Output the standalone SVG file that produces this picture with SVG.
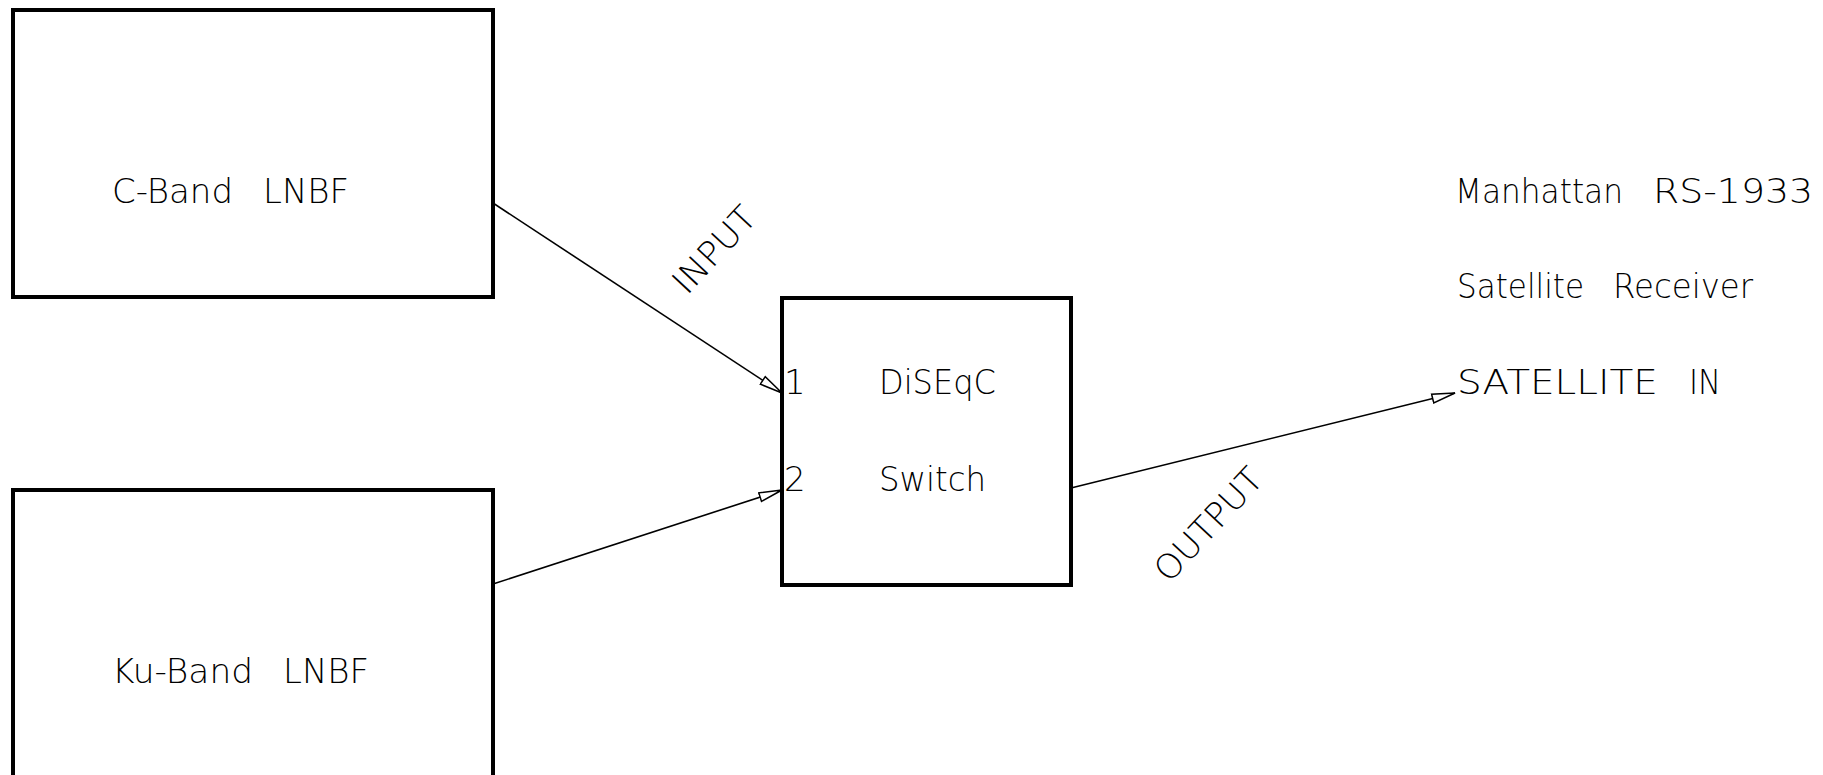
<svg xmlns="http://www.w3.org/2000/svg" width="1823" height="775" viewBox="0 0 1823 775">
  <style>
    .box { fill: none; stroke: #000; stroke-width: 4; stroke-linejoin: miter; }
    .wire { fill: none; stroke: #000; stroke-width: 1.6; }
    .lbl { font-family: "DejaVu Sans", "Liberation Sans", Arial, sans-serif; font-weight: 200; font-size: 34px; fill: #000; }
  </style>
  <defs>
    <marker id="arr" markerUnits="userSpaceOnUse" markerWidth="30" markerHeight="14" refX="24" refY="7" orient="auto" viewBox="0 0 30 14">
      <path d="M24,7 L1,2.5 L1,11.5 Z" fill="#fff" stroke="#000" stroke-width="1.5"/>
    </marker>
  </defs>
  <rect width="1823" height="775" fill="#fff"/>

  <g id="c-band-lnbf">
    <rect class="box" x="13" y="10" width="480" height="287"/>
    <text class="lbl" y="203"><tspan x="112" textLength="121" lengthAdjust="spacingAndGlyphs">C-Band</tspan> <tspan x="263" textLength="86" lengthAdjust="spacingAndGlyphs">LNBF</tspan></text>
  </g>

  <g id="ku-band-lnbf">
    <rect class="box" x="13" y="490" width="480" height="330"/>
    <text class="lbl" y="683"><tspan x="112" textLength="141" lengthAdjust="spacingAndGlyphs">Ku-Band</tspan> <tspan x="283" textLength="86" lengthAdjust="spacingAndGlyphs">LNBF</tspan></text>
  </g>

  <g id="diseqc-switch">
    <rect class="box" x="782" y="298" width="289" height="287"/>
    <text class="lbl" x="879" y="394" textLength="117" lengthAdjust="spacingAndGlyphs">DiSEqC</text>
    <text class="lbl" x="879" y="491" textLength="107" lengthAdjust="spacingAndGlyphs">Switch</text>
    <text class="lbl" x="784" y="394">1</text>
    <text class="lbl" x="784" y="491">2</text>
  </g>

  <g id="receiver">
    <text class="lbl" y="203"><tspan x="1455" textLength="168" lengthAdjust="spacingAndGlyphs">Manhattan</tspan> <tspan x="1653" textLength="160" lengthAdjust="spacingAndGlyphs">RS-1933</tspan></text>
    <text class="lbl" y="298"><tspan x="1457" textLength="127" lengthAdjust="spacingAndGlyphs">Satellite</tspan> <tspan x="1613" textLength="140" lengthAdjust="spacingAndGlyphs">Receiver</tspan></text>
    <text class="lbl" y="394"><tspan x="1457" textLength="201" lengthAdjust="spacingAndGlyphs">SATELLITE</tspan> <tspan x="1689" textLength="32" lengthAdjust="spacingAndGlyphs">IN</tspan></text>
  </g>

  <g id="connectors">
    <line class="wire" x1="493" y1="203" x2="782" y2="393" marker-end="url(#arr)"/>
    <line class="wire" x1="493" y1="584" x2="782" y2="490" marker-end="url(#arr)"/>
    <line class="wire" x1="1071" y1="488" x2="1455" y2="393" marker-end="url(#arr)"/>
    <text class="lbl" transform="translate(687,296) rotate(-47)" textLength="105" lengthAdjust="spacingAndGlyphs">INPUT</text>
    <text class="lbl" transform="translate(1169,584) rotate(-47)" textLength="141" lengthAdjust="spacingAndGlyphs">OUTPUT</text>
  </g>
</svg>
